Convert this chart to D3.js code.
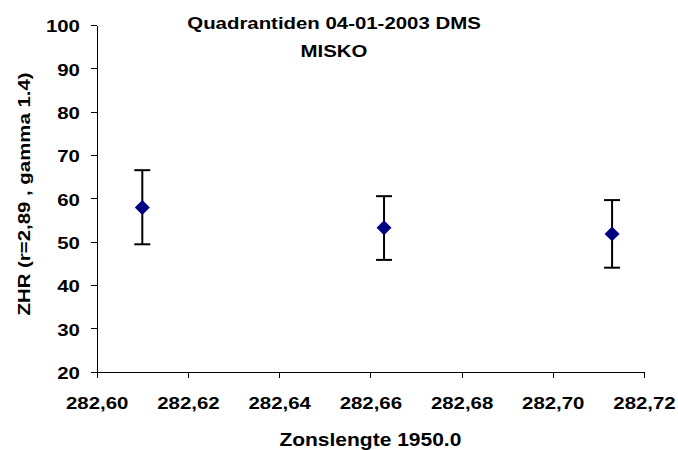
<!DOCTYPE html>
<html>
<head>
  <meta charset="utf-8">
  <script src="https://d3js.org/d3.v7.min.js"></script>
  <style>
    body { margin: 0; background: #fff; }
    svg text { font-family: "Liberation Sans", Arial, sans-serif; font-weight: bold; fill: #000; }
  </style>
</head>
<body>
<script>
  // data
  var zonslengte = [282.610, 282.663, 282.713];
  var zhr        = [57.9, 53.2, 51.8];
  var zhrLow     = [49.4, 45.8, 44.0];
  var zhrHigh    = [66.5, 60.5, 59.6];
  var xTicks = [282.60, 282.62, 282.64, 282.66, 282.68, 282.70, 282.72];
  var yTicks = [20, 30, 40, 50, 60, 70, 80, 90, 100];

  var titleLines = ["Quadrantiden 04-01-2003 DMS", "MISKO"];
  var xTitle = "Zonslengte 1950.0";
  var yTitle = "ZHR (r=2,89 , gamma 1.4)";

  var width = 678, height = 450;
  var plot = {left: 96.7, right: 644, top: 25, bottom: 371.7};
  var stretch = "scale(1.2,1)";   // the text in the original is a bit wide

  var nl = d3.formatLocale({decimal: ",", thousands: ".", grouping: [3], currency: ["", ""]});

  var x = d3.scaleLinear().domain([282.60, 282.72]).range([plot.left, plot.right]);
  var y = d3.scaleLinear().domain([20, 100]).range([plot.bottom, plot.top]);

  var svg = d3.select("body").append("svg")
      .attr("width", width)
      .attr("height", height);

  // axes
  var gx = svg.append("g")
      .attr("transform", "translate(0," + plot.bottom + ")")
      .call(d3.axisBottom(x).tickValues(xTicks).tickFormat(nl.format(".2f")).tickSize(6).tickSizeOuter(0));
  gx.selectAll("text")
      .attr("y", 25)
      .attr("dy", "0.71em")
      .attr("transform", stretch)
      .style("font-size", "17px");

  var gy = svg.append("g")
      .attr("transform", "translate(" + plot.left + ",0)")
      .call(d3.axisLeft(y).tickValues(yTicks).tickFormat(d3.format("d")).tickSize(6).tickSizeOuter(0));
  gy.selectAll("text")
      .attr("x", -14)
      .attr("dy", "0.4em")
      .attr("transform", stretch)
      .style("font-size", "17px");

  svg.selectAll(".domain, .tick line")
      .attr("stroke", "#000")
      .attr("stroke-width", 1)
      .attr("shape-rendering", "crispEdges");

  // error bars
  var pts = zonslengte.map(function(d, i) {
    return {x: d, y: zhr[i], lo: zhrLow[i], hi: zhrHigh[i]};
  });

  var bars = svg.append("g").attr("stroke", "#000").attr("stroke-width", 2);
  bars.selectAll(".stem").data(pts).enter().append("line")
      .attr("x1", function(d) { return x(d.x); })
      .attr("x2", function(d) { return x(d.x); })
      .attr("y1", function(d) { return y(d.lo); })
      .attr("y2", function(d) { return y(d.hi); });
  bars.selectAll(".capHi").data(pts).enter().append("line")
      .attr("x1", function(d) { return x(d.x) - 8; })
      .attr("x2", function(d) { return x(d.x) + 8; })
      .attr("y1", function(d) { return y(d.hi); })
      .attr("y2", function(d) { return y(d.hi); });
  bars.selectAll(".capLo").data(pts).enter().append("line")
      .attr("x1", function(d) { return x(d.x) - 8; })
      .attr("x2", function(d) { return x(d.x) + 8; })
      .attr("y1", function(d) { return y(d.lo); })
      .attr("y2", function(d) { return y(d.lo); });

  // diamonds
  svg.append("g").selectAll("path").data(pts).enter().append("path")
      .attr("d", d3.symbol(d3.symbolSquare, 112))
      .attr("transform", function(d) { return "translate(" + x(d.x) + "," + y(d.y) + ") rotate(45)"; })
      .attr("fill", "#000080");

  // titles
  svg.selectAll(".title").data(titleLines).enter().append("text")
      .attr("class", "title")
      .attr("text-anchor", "middle")
      .attr("transform", function(d, i) { return "translate(334," + (29 + i * 28) + ") " + stretch; })
      .style("font-size", "17px")
      .text(function(d) { return d; });

  svg.append("text")
      .attr("text-anchor", "middle")
      .attr("transform", "translate(" + ((plot.left + plot.right) / 2) + ",446) " + stretch)
      .style("font-size", "17.5px")
      .text(xTitle);

  svg.append("text")
      .attr("text-anchor", "middle")
      .attr("transform", "translate(30,194) rotate(-90) " + stretch)
      .style("font-size", "17px")
      .text(yTitle);
</script>
</body>
</html>
